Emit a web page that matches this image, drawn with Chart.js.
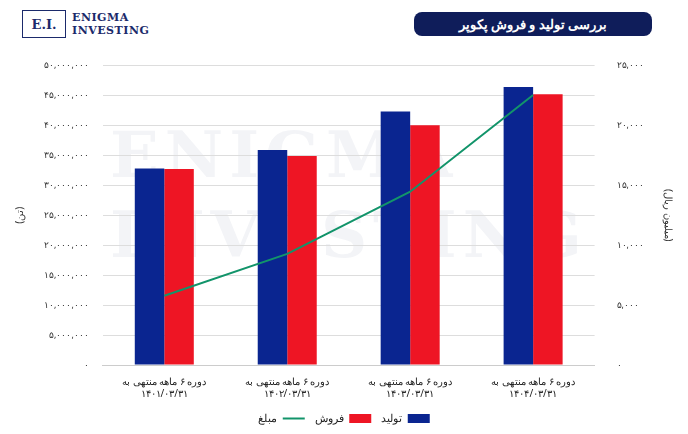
<!DOCTYPE html>
<html lang="fa">
<head>
<meta charset="UTF-8">
<script src="https://cdn.jsdelivr.net/npm/chart.js"></script>
<style>
    body { margin: 0; background: #fff; font-family: "Noto Sans", sans-serif; }
    .wrap { position: relative; width: 688px; height: 434px; }
    .logo { position: absolute; left: 22px; top: 10px; display: flex; align-items: center; }
    .logo .box { width: 42px; height: 26px; background: #fff; border: 1px solid #1b2a6b; color: #1b2a6b; font: bold 13px "DejaVu Serif", serif; display: flex; align-items: center; justify-content: center; }
    .logo .name { margin-left: 6px; color: #1b2a6b; font: bold 11px "DejaVu Serif", serif; line-height: 13px; letter-spacing: 0.5px; }
    .title { position: absolute; right: 36px; top: 12px; width: 238px; height: 24px; background: #0f1d5a; border-radius: 8px; color: #fff; font: bold 13px "Noto Sans", sans-serif; text-align: center; line-height: 24px; direction: rtl; }
    .wm { position: absolute; left: 110px; top: 115px; color: rgba(27,42,107,0.05); font: bold 64px "DejaVu Serif", serif; line-height: 80px; letter-spacing: 6px; }
    .chart { position: absolute; left: 0; top: 46px; width: 688px; height: 388px; }
</style>
</head>
<body>
<div class="wrap">
    <div class="logo"><div class="box">E.I.</div><div class="name">ENIGMA<br>INVESTING</div></div>
    <div class="title">بررسی تولید و فروش پکوپر</div>
    <div class="wm">ENIGMA<br>INVESTING</div>
    <div class="chart"><canvas id="c"></canvas></div>
</div>
<script>
// داده‌ها
const categories = [
    ['دوره ۶ ماهه منتهی به', '۱۴۰۱/۰۳/۳۱'],
    ['دوره ۶ ماهه منتهی به', '۱۴۰۲/۰۳/۳۱'],
    ['دوره ۶ ماهه منتهی به', '۱۴۰۳/۰۳/۳۱'],
    ['دوره ۶ ماهه منتهی به', '۱۴۰۴/۰۳/۳۱']
];
const production = [32800000, 35900000, 42300000, 46400000];
const sales = [32700000, 34900000, 40000000, 45200000];
const amount = [5780, 9270, 14460, 22530];

const faDigits = s => String(s).replace(/\d/g, d => '۰۱۲۳۴۵۶۷۸۹'[d]);
const fmt = v => faDigits(v.toLocaleString('en-US'));

new Chart(document.getElementById('c'), {
    data: {
        labels: categories,
        datasets: [
            { type: 'bar', label: 'تولید', data: production, backgroundColor: '#0a2590', yAxisID: 'y', barPercentage: 1, categoryPercentage: 0.48, pointStyle: 'rect', order: 2 },
            { type: 'bar', label: 'فروش', data: sales, backgroundColor: '#ee1524', yAxisID: 'y', barPercentage: 1, categoryPercentage: 0.48, pointStyle: 'rect', order: 2 },
            { type: 'line', label: 'مبلغ', data: amount, borderColor: '#12946a', backgroundColor: '#12946a', borderWidth: 2, pointRadius: 0, pointStyle: 'line', tension: 0, yAxisID: 'y1', order: 1 }
        ]
    },
    options: {
        responsive: true,
        maintainAspectRatio: false,
        animation: false,
        layout: { padding: { left: 10, right: 10, top: 4 } },
        plugins: {
            legend: {
                position: 'bottom', rtl: true,
                labels: {
                    usePointStyle: true, pointStyleWidth: 22, boxHeight: 9, color: '#222',
                    font: { size: 11, family: 'Noto Sans' },
                    sort: (a, b) => a.datasetIndex - b.datasetIndex
                }
            },
            tooltip: { enabled: false }
        },
        scales: {
            x: {
                grid: { display: false },
                border: { color: '#ccc' },
                ticks: { color: '#222', font: { size: 10, family: 'Noto Sans' } }
            },
            y: {
                position: 'left', min: 0, max: 50000000,
                ticks: { stepSize: 5000000, callback: v => fmt(v), color: '#333', font: { size: 9, family: 'Noto Sans' }, padding: 14 },
                grid: { color: '#ddd', drawTicks: false },
                border: { display: false },
                title: { display: true, text: '(تن)', color: '#333', font: { size: 10, family: 'Noto Sans' } }
            },
            y1: {
                position: 'right', min: 0, max: 25000,
                ticks: { stepSize: 5000, callback: v => fmt(v), color: '#333', font: { size: 9, family: 'Noto Sans' }, padding: 14 },
                grid: { display: false },
                border: { display: false },
                title: { display: true, text: '(میلیون ریال)', color: '#333', font: { size: 10, family: 'Noto Sans' } }
            }
        }
    }
});
</script>
</body>
</html>
